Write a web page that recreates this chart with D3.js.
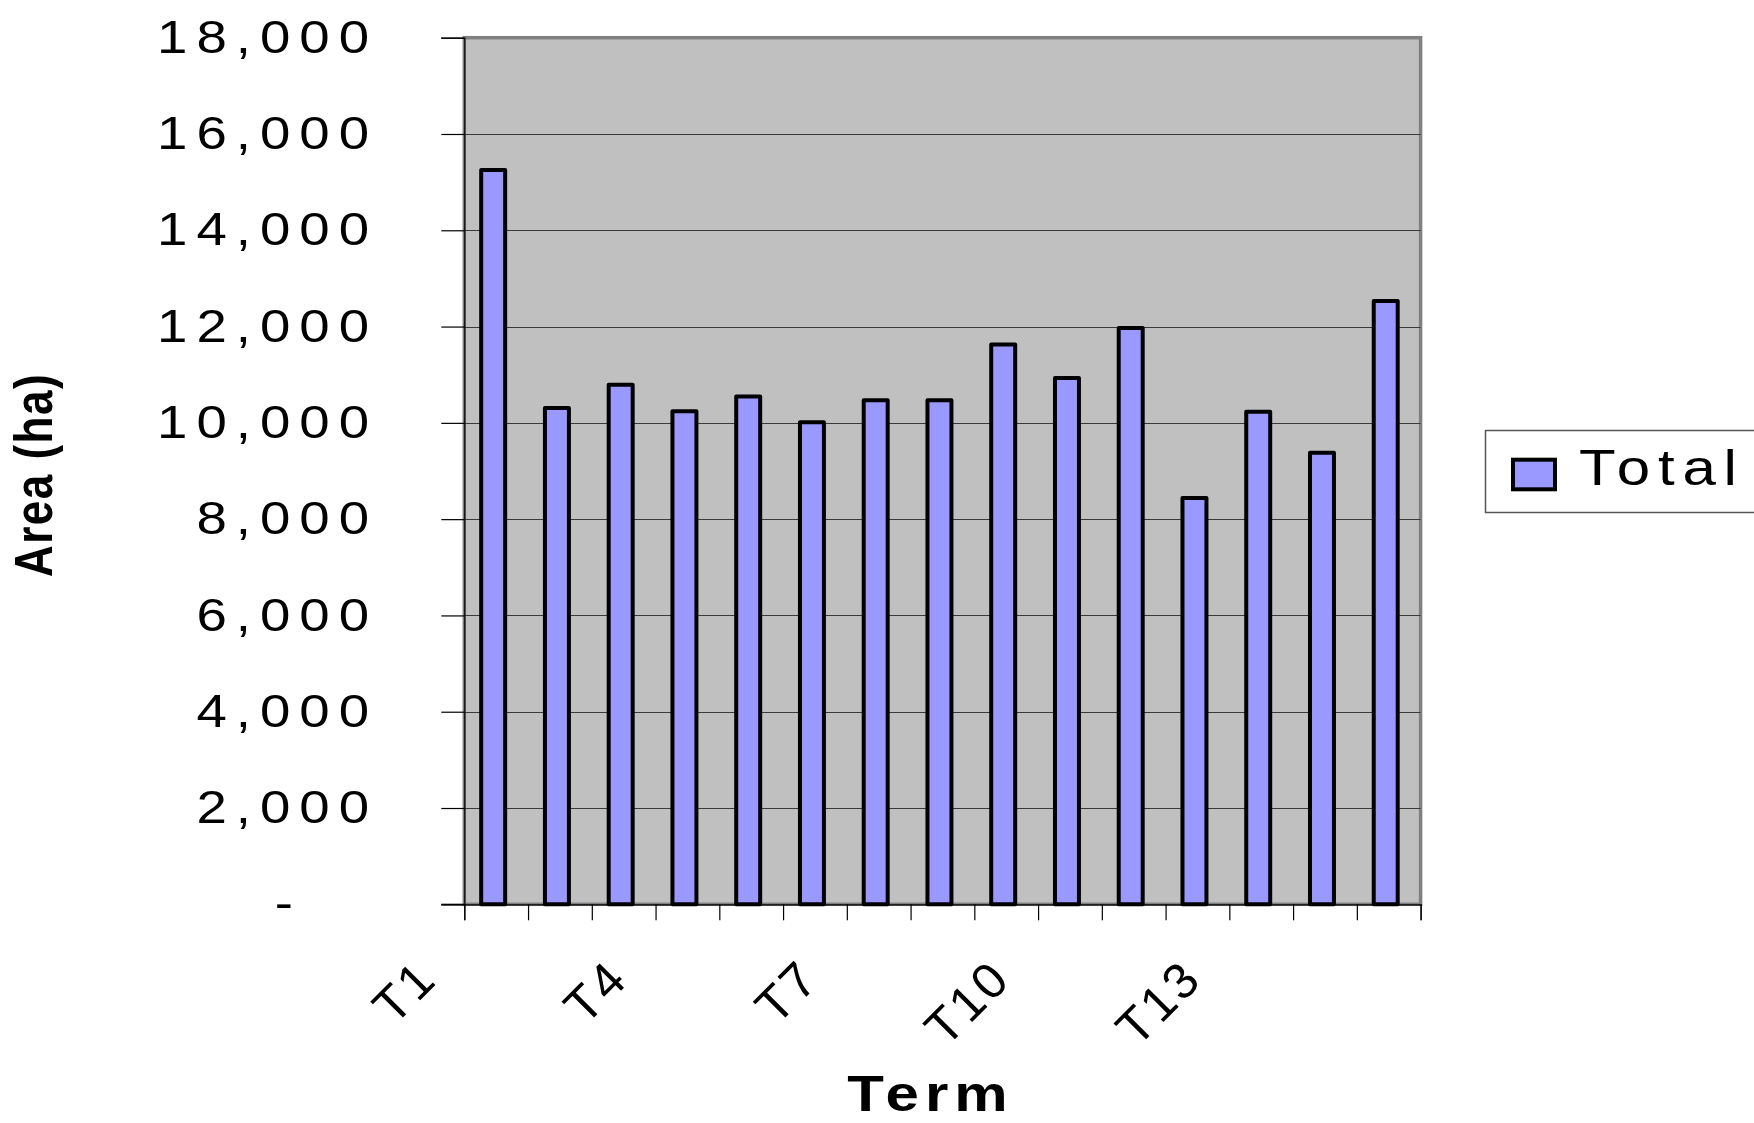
<!DOCTYPE html>
<html>
<head>
<meta charset="utf-8">
<script src="https://cdn.jsdelivr.net/npm/d3@7"></script>
<style>
  html, body { margin: 0; padding: 0; background: #ffffff; }
  svg { display: block; }
  text { font-family: "Liberation Sans", Arial, sans-serif; fill: #000; }
</style>
</head>
<body>
<script>
// Area per term (ha)
const categories = ["T1","T2","T3","T4","T5","T6","T7","T8","T9","T10","T11","T12","T13","T14","T15"];
const totals = [15250, 10310, 10790, 10240, 10550, 10010, 10470, 10470, 11630, 10930, 11970, 8440, 10230, 9380, 12530];
const yTickValues = [0, 2000, 4000, 6000, 8000, 10000, 12000, 14000, 16000, 18000];
const xTickLabels = ["T1", "T4", "T7", "T10", "T13"];
const seriesName = "Total";

const W = 1754, H = 1123;
const plot = { left: 464.3, right: 1420.6, top: 37.7, bottom: 904.3 };
const stretch = 1.2;          // wide lettering used for the axis numbers, legend and axis title
const barFill = "#9999ff";

const svg = d3.select("body").append("svg")
  .attr("width", W).attr("height", H)
  .attr("viewBox", `0 0 ${W} ${H}`);

svg.append("rect").attr("width", W).attr("height", H).attr("fill", "#fff");

const x = d3.scaleBand().domain(categories).range([plot.left, plot.right]).padding(0);
const y = d3.scaleLinear().domain([0, 18000]).range([plot.bottom, plot.top]);
const xEdges = d3.scaleLinear().domain([0, categories.length]).range([plot.left, plot.right]);

// plot background
svg.append("rect")
  .attr("x", plot.left).attr("y", plot.top)
  .attr("width", plot.right - plot.left).attr("height", plot.bottom - plot.top)
  .attr("fill", "#c0c0c0")
  .attr("stroke", "#808080").attr("stroke-width", 3.5);

// horizontal gridlines
svg.append("g").selectAll("line")
  .data(yTickValues.filter(v => v > 0 && v < 18000))
  .join("line")
  .attr("x1", plot.left).attr("x2", plot.right)
  .attr("y1", d => Math.round(y(d)) + 0.5).attr("y2", d => Math.round(y(d)) + 0.5)
  .attr("stroke", "#3a3a3a").attr("stroke-width", 1.2);

// bars
const barW = x.bandwidth() * 0.376;
const barShift = -3;
svg.append("g").selectAll("rect")
  .data(totals)
  .join("rect")
  .attr("x", (d, i) => x(categories[i]) + x.bandwidth() / 2 + barShift - barW / 2)
  .attr("y", d => y(d))
  .attr("width", barW)
  .attr("height", d => y(0) - y(d))
  .attr("fill", barFill)
  .attr("stroke", "#000").attr("stroke-width", 4)
  .attr("stroke-linejoin", "round");

// y axis
const yLetter = 7.5;
const labelGap = 95.3;   // distance from the axis to the right end of the numbers
const yAxis = d3.axisLeft(y)
  .tickValues(yTickValues)
  .tickSize(23)
  .tickPadding(0)
  .tickFormat(d => d === 0 ? "-" : d3.format(",")(d));

const gy = svg.append("g")
  .attr("transform", `translate(${plot.left},0)`)
  .call(yAxis);
gy.select(".domain").attr("stroke", "#000").attr("stroke-width", 1.2);
gy.selectAll(".tick line").attr("stroke", "#000").attr("stroke-width", 1.2);
gy.selectAll(".tick text")
  .attr("font-size", 45.5)
  .attr("font-family", "'Liberation Sans', Arial, sans-serif")
  .attr("letter-spacing", yLetter)
  .attr("text-anchor", "end")
  .attr("dy", "0.32em")
  .attr("transform", `scale(${stretch},1)`)
  .attr("x", d => (d === 0 ? -(labelGap + 76) : -labelGap) / stretch + yLetter);

// x axis: ticks at every category boundary
const gx = svg.append("g")
  .attr("transform", `translate(0,${plot.bottom})`)
  .call(d3.axisBottom(xEdges).tickValues(d3.range(categories.length + 1)).tickSize(16).tickFormat(""));
gx.select(".domain").attr("stroke", "#000").attr("stroke-width", 1.2);
gx.selectAll(".tick line").attr("stroke", "#000").attr("stroke-width", 1.2);
// extend the baseline left under the y-axis tick
svg.append("line")
  .attr("x1", plot.left - 23).attr("x2", plot.left)
  .attr("y1", plot.bottom).attr("y2", plot.bottom)
  .attr("stroke", "#000").attr("stroke-width", 1.2);

// rotated category labels
const xLetter = 3;
svg.append("g").selectAll("text")
  .data(xTickLabels)
  .join("text")
  .attr("transform", d => `translate(${x(d) + x.bandwidth() / 2 - 59},${plot.bottom + 79}) rotate(-45)`)
  .attr("text-anchor", "end")
  .attr("font-size", 50)
  .attr("letter-spacing", xLetter)
  .attr("dx", xLetter)
  .text(d => d);

// axis titles
const tLetter = 5;
svg.append("text")
  .attr("transform", `translate(${(plot.left + plot.right) / 2 - 12},1111) scale(${stretch},1)`)
  .attr("text-anchor", "middle")
  .attr("font-weight", "bold")
  .attr("font-size", 50)
  .attr("letter-spacing", tLetter)
  .text("Term");

svg.append("text")
  .attr("transform", `translate(52,475) rotate(-90) scale(1,${stretch})`)
  .attr("text-anchor", "middle")
  .attr("font-weight", "bold")
  .attr("font-size", 44)
  .attr("letter-spacing", 1.5)
  .text("Area (ha)");

// legend
const legend = svg.append("g");
legend.append("rect")
  .attr("x", 1485.5).attr("y", 430.5).attr("width", 320).attr("height", 82)
  .attr("fill", "#fff").attr("stroke", "#555").attr("stroke-width", 1.5);
legend.append("rect")
  .attr("x", 1513).attr("y", 459.7).attr("width", 42).attr("height", 29.6)
  .attr("fill", barFill).attr("stroke", "#000").attr("stroke-width", 4);
legend.append("text")
  .attr("transform", `translate(1579,485) scale(${stretch},1)`)
  .attr("font-size", 50)
  .attr("letter-spacing", 6.5)
  .text(seriesName);
</script>
</body>
</html>
